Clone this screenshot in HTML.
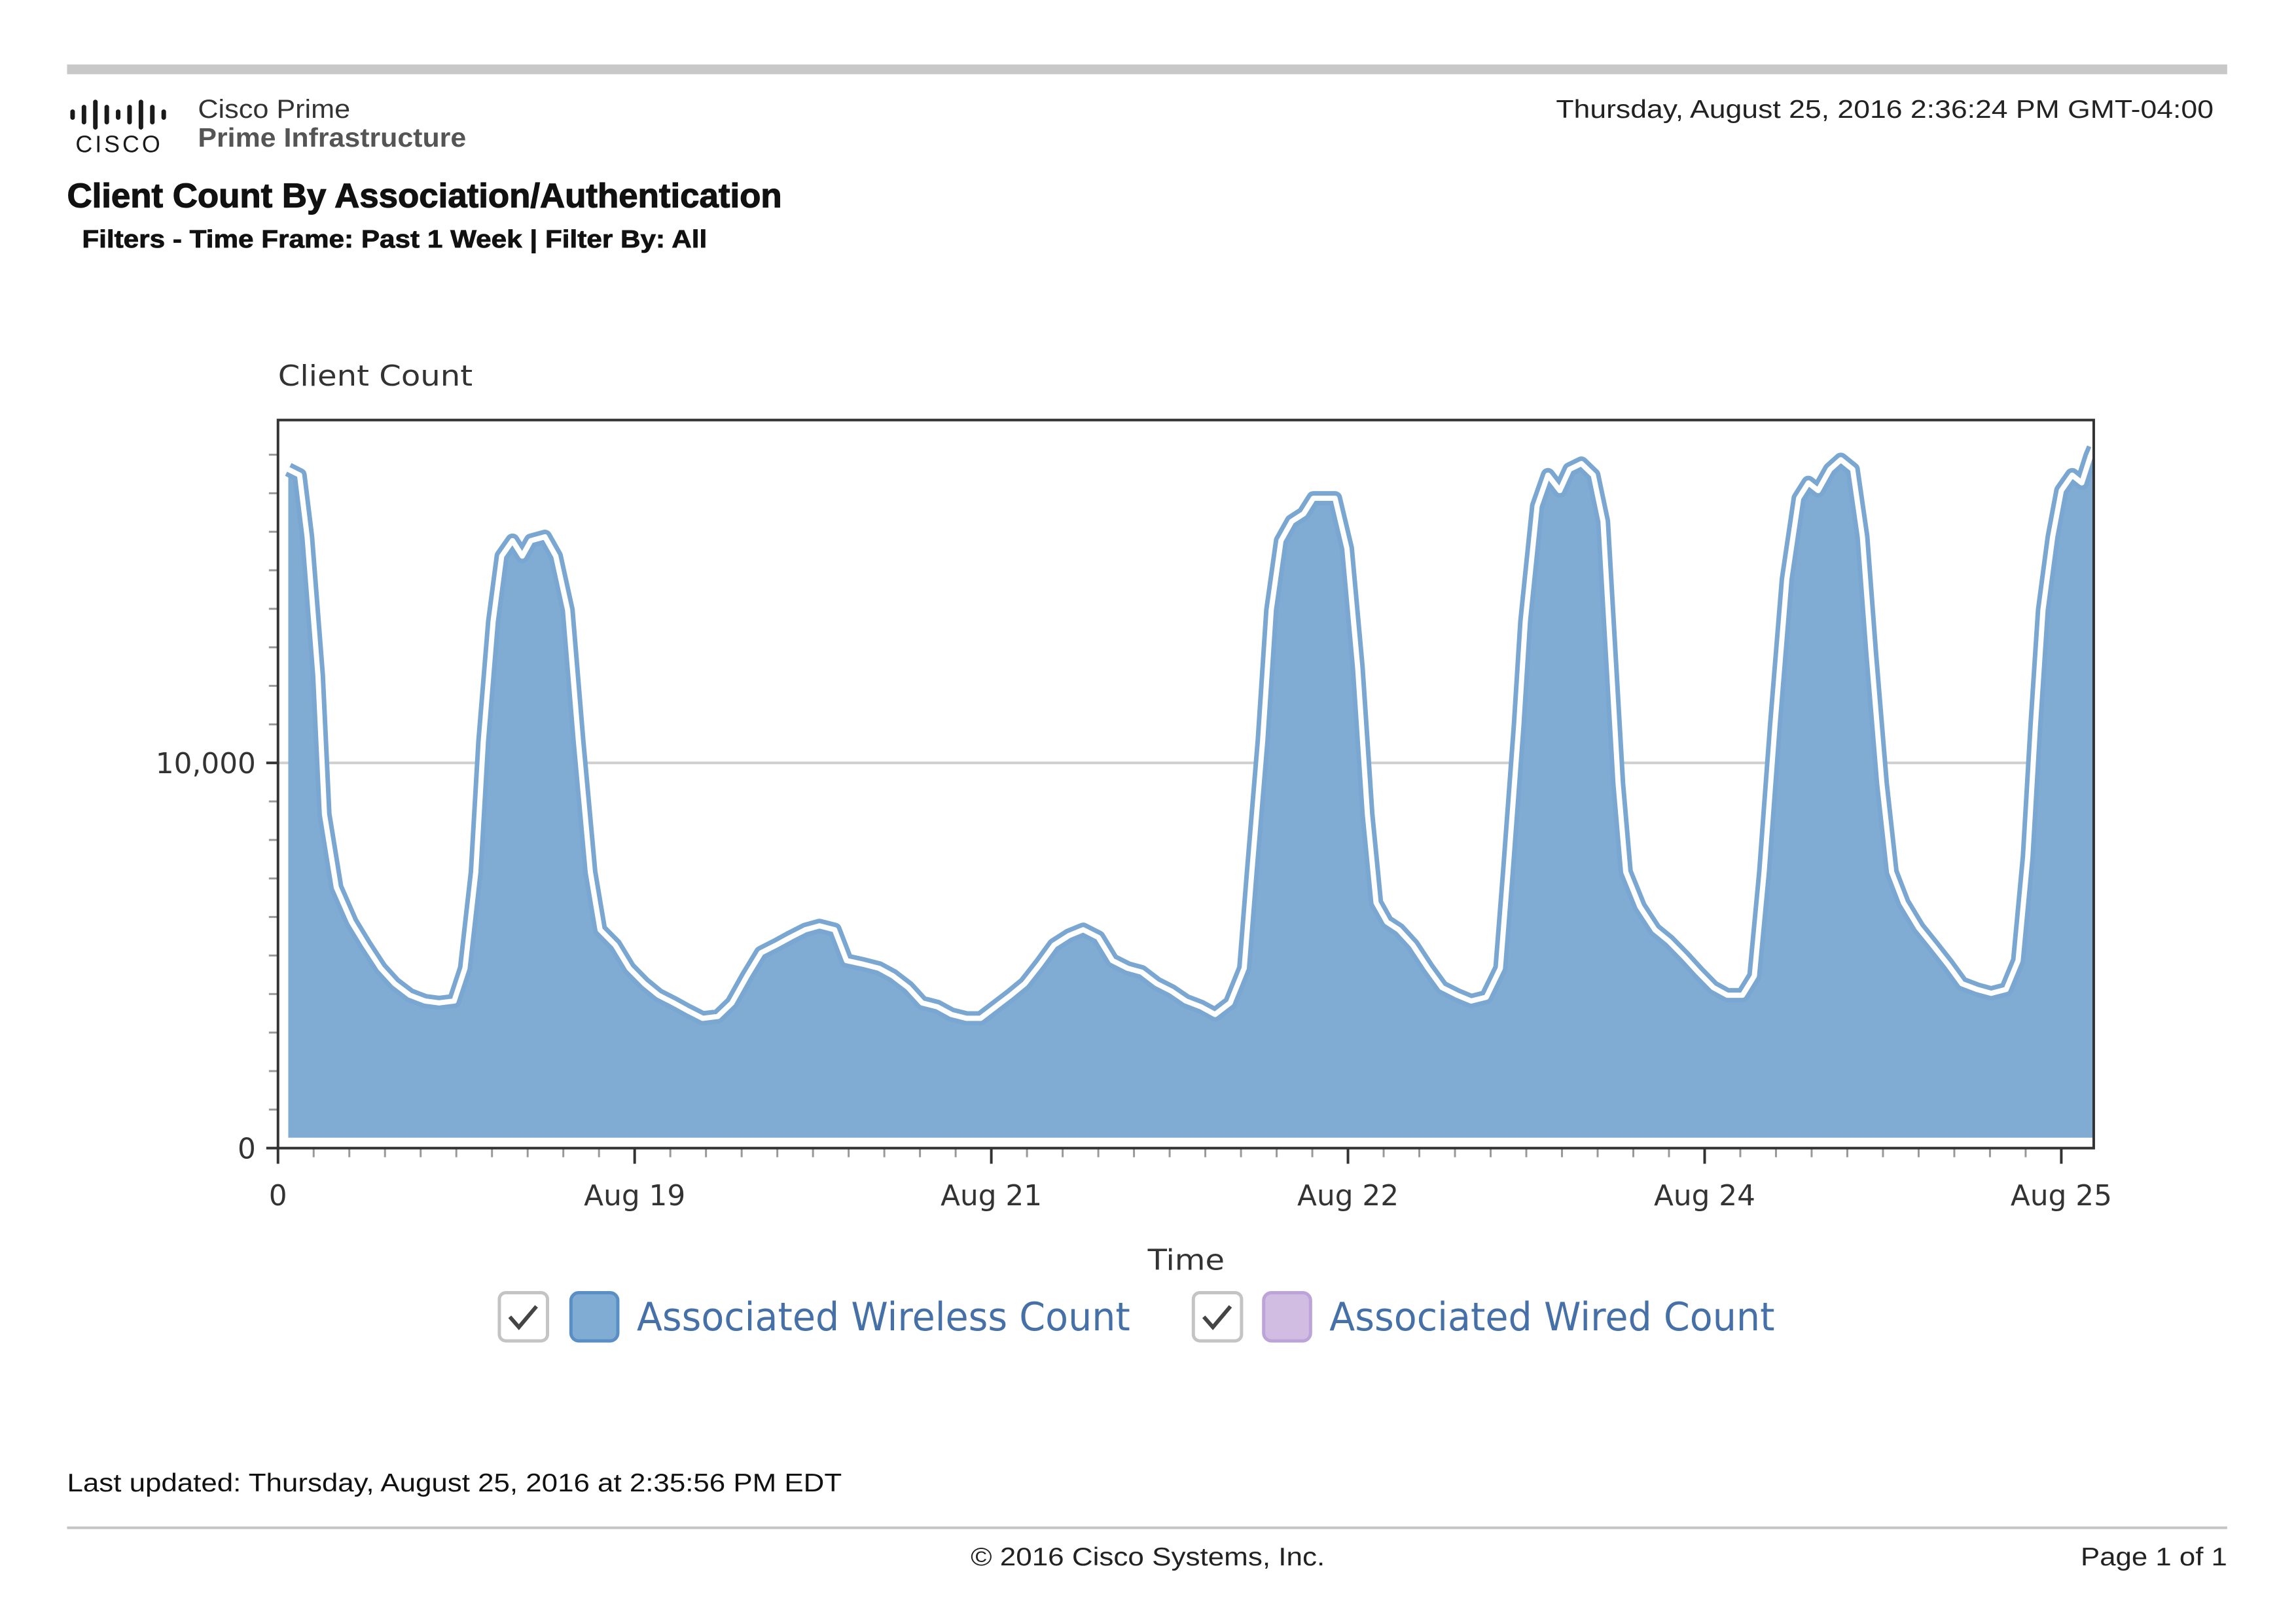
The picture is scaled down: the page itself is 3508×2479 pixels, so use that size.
<!DOCTYPE html>
<html><head><meta charset="utf-8"><style>
html,body{margin:0;padding:0;background:#fff;}
svg{display:block;}
</style></head><body>
<svg id="page" width="3508" height="2479" viewBox="0 0 3508 2479" xmlns="http://www.w3.org/2000/svg">
<defs><clipPath id="plotclip"><rect x="427" y="645" width="2789" height="1118"/></clipPath></defs>
<g transform="scale(0.9947)">
<rect x="103" y="99" width="3318" height="15" fill="#c8c8c8"/>
<g id="logo"></g>
<text x="116" y="234" font-family="Liberation Sans, sans-serif" font-size="36" fill="#1a1a1a" textLength="130" lengthAdjust="spacing">CISCO</text>
<text x="304" y="181" font-family="Liberation Sans, sans-serif" font-size="40" fill="#333" textLength="234" lengthAdjust="spacingAndGlyphs">Cisco Prime</text>
<text x="304" y="225" font-family="Liberation Sans, sans-serif" font-size="41" font-weight="bold" fill="#555" textLength="412" lengthAdjust="spacingAndGlyphs">Prime Infrastructure</text>
<text x="3400" y="181" text-anchor="end" font-family="Liberation Sans, sans-serif" font-size="39" fill="#222" textLength="1010" lengthAdjust="spacingAndGlyphs">Thursday, August 25, 2016 2:36:24 PM GMT-04:00</text>
<text x="103" y="318" font-family="Liberation Sans, sans-serif" font-size="52" font-weight="bold" fill="#111" stroke="#111" stroke-width="1.2" textLength="1098" lengthAdjust="spacingAndGlyphs">Client Count By Association/Authentication</text>
<text x="126" y="380" font-family="Liberation Sans, sans-serif" font-size="38" font-weight="bold" fill="#111" stroke="#111" stroke-width="0.8" textLength="960" lengthAdjust="spacingAndGlyphs">Filters - Time Frame: Past 1 Week | Filter By: All</text>
<text x="427" y="592" font-family="DejaVu Sans, sans-serif" font-size="44" fill="#333" textLength="299" lengthAdjust="spacingAndGlyphs">Client Count</text>
<g id="chart"></g>
<text x="1822" y="1950" text-anchor="middle" font-family="DejaVu Sans, sans-serif" font-size="44" fill="#333" textLength="118" lengthAdjust="spacingAndGlyphs">Time</text>
<g>
 <g>
  <rect x="767" y="1985" width="74" height="74" rx="10" fill="#fff" stroke="#c4c4c4" stroke-width="5"/>
  <path d="M783 2022 l14 16 l27 -32" fill="none" stroke="#444" stroke-width="6"/>
  <rect x="877" y="1985" width="72" height="74" rx="12" fill="#80abd2" stroke="#5a8fc6" stroke-width="5"/>
  <text x="978" y="2043" font-family="DejaVu Sans, sans-serif" font-size="60" fill="#4571a8" textLength="758" lengthAdjust="spacingAndGlyphs">Associated Wireless Count</text>
 </g>
 <g>
  <rect x="1833" y="1985" width="74" height="74" rx="10" fill="#fff" stroke="#c4c4c4" stroke-width="5"/>
  <path d="M1849 2022 l14 16 l27 -32" fill="none" stroke="#444" stroke-width="6"/>
  <rect x="1941" y="1985" width="72" height="74" rx="12" fill="#d1bde2" stroke="#bca3da" stroke-width="5"/>
  <text x="2042" y="2043" font-family="DejaVu Sans, sans-serif" font-size="60" fill="#4571a8" textLength="684" lengthAdjust="spacingAndGlyphs">Associated Wired Count</text>
 </g>
</g>
<text x="103" y="2290" font-family="Liberation Sans, sans-serif" font-size="39" fill="#111" textLength="1190" lengthAdjust="spacingAndGlyphs">Last updated: Thursday, August 25, 2016 at 2:35:56 PM EDT</text>
<rect x="103" y="2344" width="3318" height="4" fill="#c4c4c4"/>
<text x="1763" y="2404" text-anchor="middle" font-family="Liberation Sans, sans-serif" font-size="39" fill="#222" textLength="544" lengthAdjust="spacingAndGlyphs">© 2016 Cisco Systems, Inc.</text>
<text x="3421" y="2404" text-anchor="end" font-family="Liberation Sans, sans-serif" font-size="39" fill="#222" textLength="225" lengthAdjust="spacingAndGlyphs">Page 1 of 1</text>
</g>
</svg>
<script>
// ---- chart data ----
const hours = [0.95,2.0,2.7,3.7,4.3,5.4,6.8,8.1,9.5,10.8,12.2,13.6,14.9,16.3,17.3,18.3,19.0,19.9,20.7,21.7,22.6,23.4,24.7,25.7,26.8,27.8,28.9,29.8,31.2,32.5,33.9,35.2,36.6,37.9,39.3,40.7,42.0,43.4,44.7,46.1,47.4,48.8,50.1,51.5,52.6,54.2,55.6,56.9,58.3,59.6,61.0,62.3,63.7,65.0,66.4,67.8,69.1,70.5,71.8,73.2,74.5,75.9,77.2,78.6,79.9,81.3,82.7,84.0,85.4,86.7,88.1,89.4,90.1,91.1,91.9,92.8,93.8,94.9,95.8,96.9,97.8,98.9,99.9,100.8,101.6,102.6,103.7,105.0,106.4,107.7,109.1,110.4,111.8,113.1,113.8,114.8,115.4,116.5,117.5,118.6,119.5,120.6,121.7,122.6,123.3,124.0,124.7,126.0,127.4,128.7,130.1,131.4,132.8,134.1,135.5,136.6,137.5,138.5,139.6,140.7,141.6,142.5,143.6,144.6,145.7,146.6,147.4,148.4,149.3,150.4,151.8,153.1,154.5,155.8,157.2,158.5,159.9,161.0,161.9,162.6,163.3,164.2,165.0,166.0,166.9,167.7,168.0];
const wirelessCounts = [17450,17300,15700,12100,8500,6600,5700,5100,4500,4100,3800,3650,3600,3650,4500,7000,10400,13500,15200,15600,15200,15600,15700,15200,13800,10400,7000,5500,5100,4500,4100,3800,3600,3400,3200,3250,3600,4300,4900,5100,5300,5500,5600,5500,4700,4600,4500,4300,4000,3600,3500,3300,3200,3200,3500,3800,4100,4600,5100,5350,5500,5300,4700,4500,4400,4100,3900,3650,3500,3300,3600,4500,7000,10400,13800,15600,16100,16300,16700,16700,16700,15400,12300,8500,6200,5700,5500,5100,4500,4000,3800,3650,3750,4500,7000,10800,13500,16500,17300,16900,17450,17600,17300,16100,12700,9300,7000,6100,5500,5200,4800,4400,4000,3800,3800,4300,7000,10800,14600,16700,17100,16900,17450,17700,17450,15700,12700,9300,7000,6200,5550,5100,4600,4100,3950,3850,3950,4700,7400,10800,13800,15700,16900,17300,17100,17800,18000];
const yTickValues = [0, 10000];
const yTickLabels = ["0", "10,000"];
const xTickHours = [0, 33, 66, 99, 132, 165];
const xTickLabels = ["0", "Aug 19", "Aug 21", "Aug 22", "Aug 24", "Aug 25"];

const NS = "http://www.w3.org/2000/svg";
const X0 = 427, X1 = 3216, Y0 = 1763, Y1 = 645;
const xMax = 168, yMax = 18900;
function xs(h){ return X0 + (h / xMax) * (X1 - X0); }
function ys(v){ return Y0 - (v / yMax) * (Y0 - Y1); }
function mk(tag, attrs, parent){ const e = document.createElementNS(NS, tag); for (const k in attrs) e.setAttribute(k, attrs[k]); parent.appendChild(e); return e; }

const logo = document.getElementById('logo');
const barH = [16, 30, 46, 30, 16, 30, 46, 30, 16];
barH.forEach((h, i) => {
  const b = mk('rect', {x: 108 + i * 17.5, y: 176 - h / 2, width: 7, height: h, rx: 3.5, fill: '#1a1a1a'}, logo);
  
  
});

const g = document.getElementById('chart');
const grid = mk('line', {x1: X0, x2: X1, y1: ys(10000), y2: ys(10000), stroke: '#cfcfcf', 'stroke-width': 4}, g);



for (let v = 1000; v <= 18000; v += 1000) {
  if (v === 10000) continue;
  const t = mk('line', {x1: X0 - 14, x2: X0, y1: ys(v), y2: ys(v), stroke: '#999', 'stroke-width': 3}, g);
  
  
}
yTickValues.forEach((v, i) => {
  const t = mk('line', {x1: X0 - 18, x2: X0, y1: ys(v), y2: ys(v), stroke: '#333', 'stroke-width': 4}, g);
  
  
  const lb = mk('text', {x: 393, y: ys(v) + 16, 'text-anchor': 'end', 'font-family': 'DejaVu Sans, sans-serif', 'font-size': 44, fill: '#333'}, g);
  lb.textContent = yTickLabels[i];
  
  
});
const step = xTickHours[1] - xTickHours[0];
for (let h = 0; h <= xMax; h += step / 10) {
  const t = mk('line', {x1: xs(h), x2: xs(h), y1: Y0, y2: Y0 + 14, stroke: '#999', 'stroke-width': 3}, g);
  
  
}
xTickHours.forEach((h, i) => {
  const t = mk('line', {x1: xs(h), x2: xs(h), y1: Y0, y2: Y0 + 24, stroke: '#333', 'stroke-width': 4}, g);
  
  
  const lb = mk('text', {x: xs(h), y: 1851, 'text-anchor': 'middle', 'font-family': 'DejaVu Sans, sans-serif', 'font-size': 44, fill: '#333'}, g);
  lb.textContent = xTickLabels[i];
  
  
});

const series = mk('g', {'clip-path': 'url(#plotclip)'}, g);


const pts = hours.map((h, i) => [xs(h), ys(wirelessCounts[i])]);
const base = Y0 - 16;
let d = 'M' + pts[0][0].toFixed(1) + ' ' + base + ' ' + pts.map(p => 'L' + p[0].toFixed(1) + ' ' + p[1].toFixed(1)).join(' ') + ' L' + pts[pts.length - 1][0].toFixed(1) + ' ' + base + ' Z';
const area = mk('path', {d: d, fill: '#80abd2'}, series);


const ld = 'M' + pts.map(p => p[0].toFixed(1) + ' ' + (p[1] - 10).toFixed(1)).join(' L');
const lineOuter = mk('path', {d: ld, fill: 'none', stroke: '#7aa7d2', 'stroke-width': 22, 'stroke-linejoin': 'round'}, series);


const lineInner = mk('path', {d: ld, fill: 'none', stroke: '#fff', 'stroke-width': 8, 'stroke-linejoin': 'round'}, series);



const frame = mk('rect', {x: X0, y: Y1, width: X1 - X0, height: Y0 - Y1, fill: 'none', stroke: '#333', 'stroke-width': 4}, g);


</script>
</body></html>
